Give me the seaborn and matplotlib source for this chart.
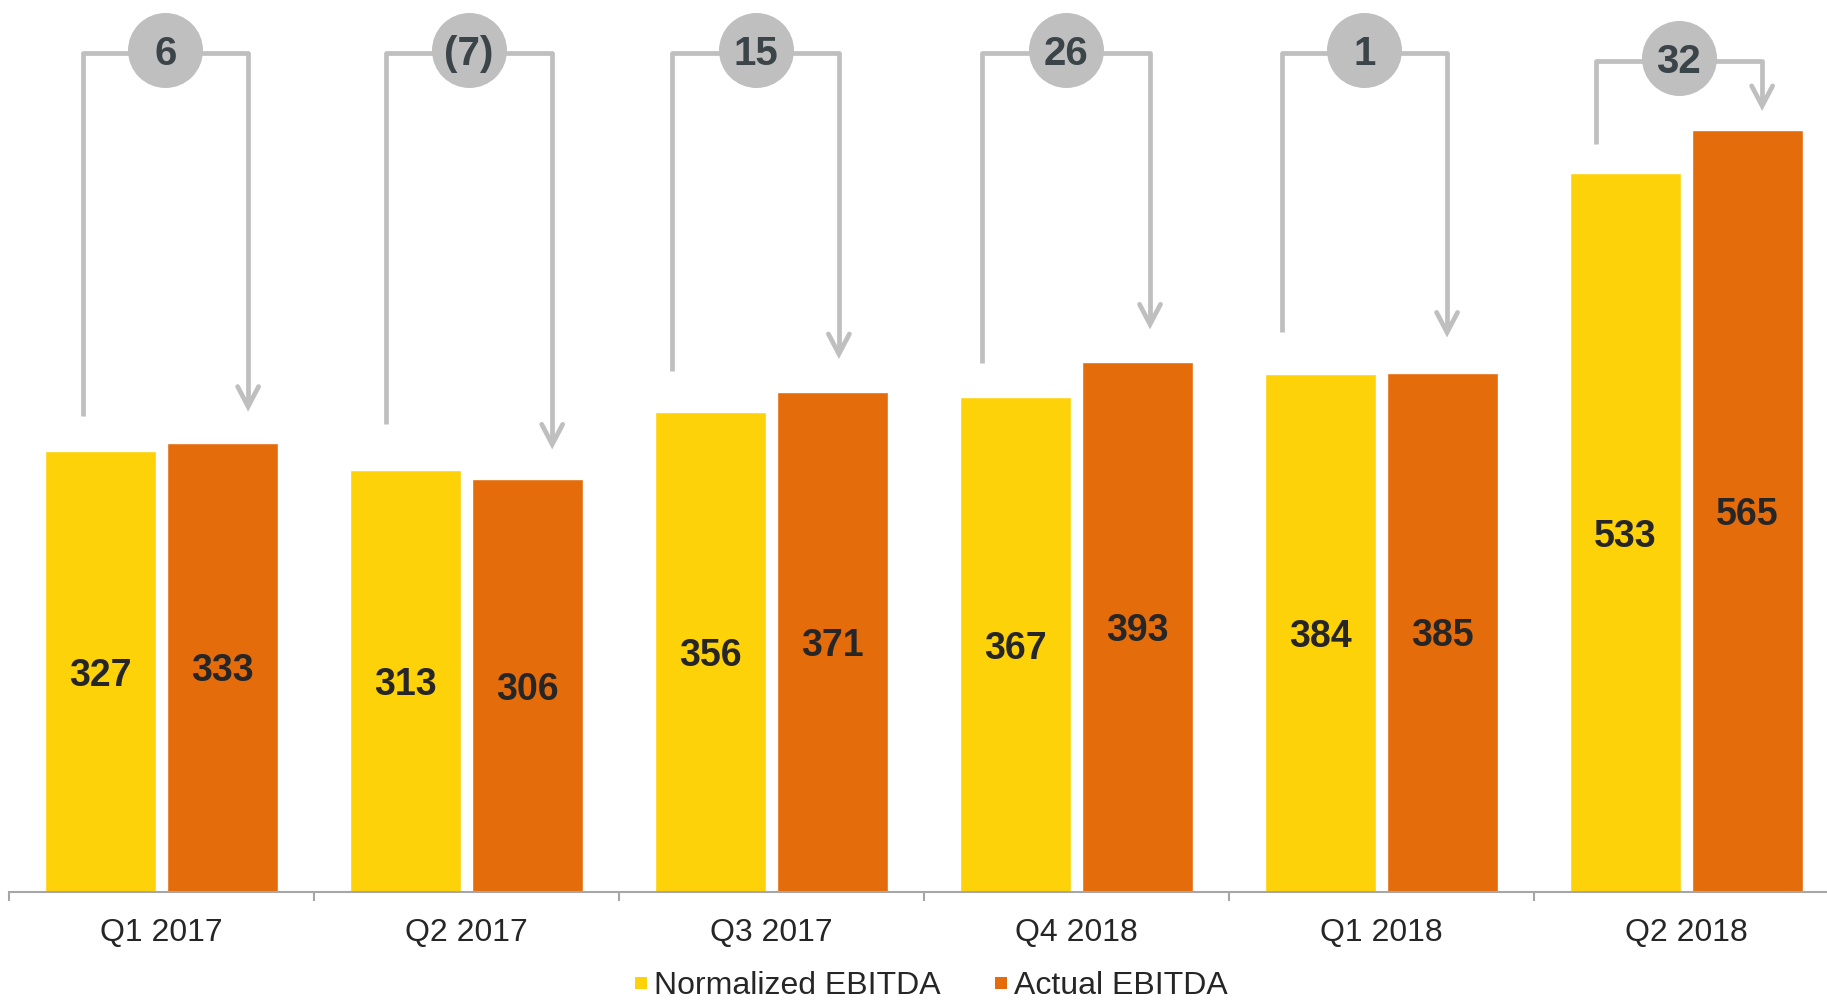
import matplotlib
matplotlib.use("Agg")
import matplotlib.pyplot as plt
from matplotlib.lines import Line2D
import pandas as pd
import seaborn as sns

# ---- data ---------------------------------------------------------------
quarters = ["Q1 2017", "Q2 2017", "Q3 2017", "Q4 2018", "Q1 2018", "Q2 2018"]
normalized_ebitda = [327, 313, 356, 367, 384, 533]
actual_ebitda = [333, 306, 371, 393, 385, 565]
series_names = ["Normalized EBITDA", "Actual EBITDA"]

# ---- bracket layout (offsets from group centre, clearances above bars) ---
bracket_left = [-0.258, -0.265, -0.325, -0.309, -0.327, -0.298]
bracket_right = [0.284, 0.281, 0.221, 0.241, 0.215, 0.248]
left_clearance = [26, 34, 30, 25, 31, 22]
tip_clearance = [27, 26, 28, 28, 30, 18]
bracket_top = [622, 622, 622, 622, 622, 616]

YELLOW = "#FDD208"
ORANGE = "#E46C0A"
GREY = "#BFBFBF"
AXIS_GREY = "#A6A6A6"
TEXT = "#262626"
BUBBLE_TEXT = "#3A4449"

sns.set_theme(style="white")
plt.rcParams["font.family"] = ["Liberation Sans", "DejaVu Sans"]

df = pd.DataFrame({
    "quarter": quarters * 2,
    "series": [series_names[0]] * len(quarters) + [series_names[1]] * len(quarters),
    "value": normalized_ebitda + actual_ebitda,
})

W, H = 1827, 1005
fig = plt.figure(figsize=(W / 100, H / 100), dpi=100)
ax = fig.add_axes([9 / W, 113 / H, 1830 / W, 1 - 113 / H])

sns.barplot(data=df, x="quarter", y="value", hue="series",
            palette=[YELLOW, ORANGE], width=0.8, gap=0.09, saturation=1,
            legend=False, ax=ax, errorbar=None)

ax.set_xlim(-0.5, 5.5)
ax.set_ylim(0, 661.5)
ax.set_xlabel("")
ax.set_ylabel("")
ax.set_yticks([])
for s in ["left", "right", "top"]:
    ax.spines[s].set_visible(False)
ax.spines["bottom"].set_color(AXIS_GREY)
ax.spines["bottom"].set_linewidth(1.5)

# category labels on major ticks, separators on minor ticks
ax.set_xticks(range(len(quarters)))
ax.set_xticklabels(quarters, fontsize=23, color=TEXT)
ax.tick_params(axis="x", which="major", length=0, pad=19)
ax.set_xticks([k - 0.5 for k in range(len(quarters) + 1)], minor=True)
ax.tick_params(axis="x", which="minor", length=6.5, width=1.5,
               color=AXIS_GREY, direction="out", bottom=True)

# values in the middle of each bar
for container in ax.containers:
    labels = ax.bar_label(container, fmt="%d", label_type="center",
                          fontsize=27, fontweight="bold", color=TEXT)
    for t in labels:
        t.set_verticalalignment("center_baseline")

# pixel size of one data unit, used for the arrowheads
x0, y0 = ax.transData.transform((0, 0))
x1, y1 = ax.transData.transform((1, 1))
px_x = x1 - x0
px_y = y1 - y0

lw = 3.4
for i in range(len(quarters)):
    xl = i + bracket_left[i]
    xr = i + bracket_right[i]
    yb = normalized_ebitda[i] + left_clearance[i]
    tip = actual_ebitda[i] + tip_clearance[i]
    top = bracket_top[i]
    ax.add_line(Line2D([xl, xl, xr, xr], [yb, top, top, tip + 3 / px_y],
                       color=GREY, lw=lw, solid_joinstyle="round",
                       solid_capstyle="butt", clip_on=False, zorder=3))
    hw = 10.5 / px_x
    hh = 20 / px_y
    ax.add_line(Line2D([xr - hw, xr, xr + hw], [tip + hh, tip, tip + hh],
                       color=GREY, lw=lw, solid_joinstyle="miter",
                       solid_capstyle="round", clip_on=False, zorder=3))
    delta = actual_ebitda[i] - normalized_ebitda[i]
    label = f"({abs(delta)})" if delta < 0 else f"{delta}"
    xc = (xl + xr) / 2
    yc = top + 2.5
    ax.plot([xc], [yc], marker="o", markersize=54, color=GREY,
            markeredgewidth=0, clip_on=False, zorder=4)
    ax.text(xc, yc, label, ha="center", va="center_baseline",
            fontsize=29, fontweight="bold", color=BUBBLE_TEXT, zorder=5)

handles = [Line2D([], [], marker="s", linestyle="none", markersize=8.6,
                  markerfacecolor=c, markeredgewidth=0) for c in (YELLOW, ORANGE)]
fig.legend(handles, series_names, loc="center", bbox_to_anchor=(0.5095, 0.0185),
           ncol=2, frameon=False, fontsize=23, handlelength=0.4,
           handletextpad=0.2, columnspacing=1.7, labelcolor=TEXT,
           borderpad=0.0)

fig.savefig("out.png", dpi=100)
